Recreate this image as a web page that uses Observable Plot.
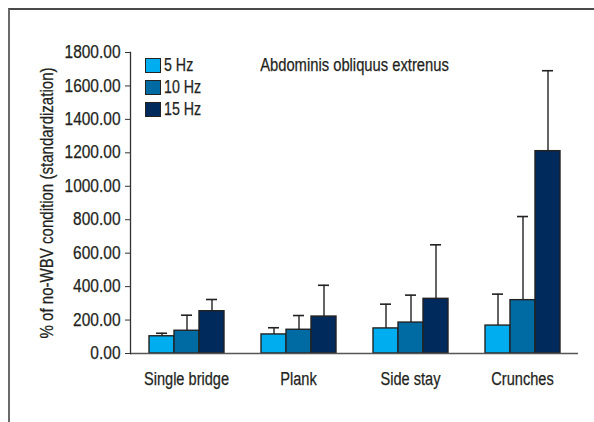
<!DOCTYPE html>
<html>
<head>
<meta charset="utf-8">
<script src="https://cdn.jsdelivr.net/npm/d3@7"></script>
<script src="https://cdn.jsdelivr.net/npm/@observablehq/plot@0.6"></script>
<style>
  html, body { margin: 0; padding: 0; background: #fff; }
  #wrap { position: relative; width: 594px; height: 422px; overflow: hidden;
          font-family: "Liberation Sans", Arial, sans-serif; color: #231f20; }
  #border { position: absolute; left: 8px; top: 8px; right: -10px; bottom: -10px;
            border-top: 2px solid #4a4a4a; border-left: 2px solid #6a6a6a; pointer-events: none; }
  #legend { position: absolute; left: 145px; top: 54px; }
  .row { display: flex; align-items: center; height: 22px; font-size: 18px; }
  .sw { width: 14px; height: 13px; border: 1.2px solid #222; margin-right: 3px; flex: none; }
  .row span { display: inline-block; transform: scaleX(0.79); transform-origin: left center;
              -webkit-text-stroke: 0.25px #231f20; }
  svg { position: absolute; left: 0; top: 0; }
  svg text { stroke: #231f20; stroke-width: 0.25px; }
</style>
</head>
<body>
<div id="wrap"><div id="border"></div></div>
<script>
const categories = ["Single bridge", "Plank", "Side stay", "Crunches"];
const series = ["5 Hz", "10 Hz", "15 Hz"];
const colors = ["#00aeef", "#006ba3", "#002a5c"];
const mean5  = [103, 114, 150, 167];
const mean10 = [136, 142, 185, 319];
const mean15 = [253, 221, 327, 1210];
const sd5  = [18, 40, 145, 188];
const sd10 = [93, 85, 164, 500];
const sd15 = [70, 187, 323, 481];
const yTicks = [0, 200, 400, 600, 800, 1000, 1200, 1400, 1600, 1800];
const title = "Abdominis obliquus extrenus";
const yLabel = "% of no-WBV condition (standardization)";

const means = [mean5, mean10, mean15];
const sds = [sd5, sd10, sd15];
const data = [];
categories.forEach((c, i) => series.forEach((s, j) => {
  data.push({category: c, series: s, mean: means[j][i], upper: means[j][i] + sds[j][i]});
}));

const font = '"Liberation Sans", Arial, sans-serif';

const chart = Plot.plot({
  width: 594,
  height: 422,
  marginLeft: 129,
  marginRight: 16,
  marginTop: 52,
  marginBottom: 69,
  style: {fontFamily: font, fontSize: "17px", color: "#231f20", background: "transparent"},
  fx: {domain: categories, padding: 0, label: null},
  x: {domain: series, paddingInner: 0, paddingOuter: 0.68, axis: null},
  y: {domain: [0, 1800], label: null},
  color: {domain: series, range: colors},
  marks: [
    Plot.barY(data, {fx: "category", x: "series", y: "mean", fill: "series", stroke: "#222", strokeWidth: 1.4}),
    Plot.ruleX(data, {fx: "category", x: "series", y1: "mean", y2: "upper", stroke: "#222", strokeWidth: 1.4}),
    Plot.tickY(data, {fx: "category", x: "series", y: "upper", stroke: "#222", strokeWidth: 1.6, insetLeft: 7, insetRight: 7}),
    Plot.ruleY([0], {stroke: "#555", strokeWidth: 1.5}),
    Plot.frame({anchor: "left", facetAnchor: "left", stroke: "#333", strokeWidth: 1.3}),
    Plot.axisY({ticks: yTicks, tickFormat: d => d.toFixed(2), tickSize: 5, tickPadding: 5,
                stroke: "#333", fontSize: 17.5, label: yLabel, labelAnchor: "center", labelArrow: "none",
                labelOffset: 90}),
    Plot.axisFx({anchor: "bottom", tickSize: 0, tickPadding: 19, fontSize: 18, label: null}),
    Plot.text([title], {frameAnchor: "top", lineAnchor: "middle", dy: 13, fontSize: 18, fill: "#231f20", facet: "super"})
  ]
});
document.getElementById("wrap").appendChild(chart);

// condense glyphs to mimic a condensed typeface
function condense(selector, factor) {
  chart.querySelectorAll(selector).forEach(t => {
    const len = t.getComputedTextLength();
    if (len > 0) {
      t.setAttribute("textLength", len * factor);
      t.setAttribute("lengthAdjust", "spacingAndGlyphs");
    }
  });
}
condense('g[aria-label="y-axis tick label"] text', 0.885);
condense('g[aria-label="fx-axis tick label"] text', 0.81);
condense('g[aria-label="y-axis label"] text', 0.86);
condense('g[aria-label="text"] text', 0.82);

const legend = document.createElement("div");
legend.id = "legend";
series.forEach((s, j) => {
  const row = document.createElement("div");
  row.className = "row";
  const sw = document.createElement("div");
  sw.className = "sw";
  sw.style.background = colors[j];
  const t = document.createElement("span");
  t.textContent = s;
  row.appendChild(sw);
  row.appendChild(t);
  legend.appendChild(row);
});
document.getElementById("wrap").appendChild(legend);
</script>
</body>
</html>
